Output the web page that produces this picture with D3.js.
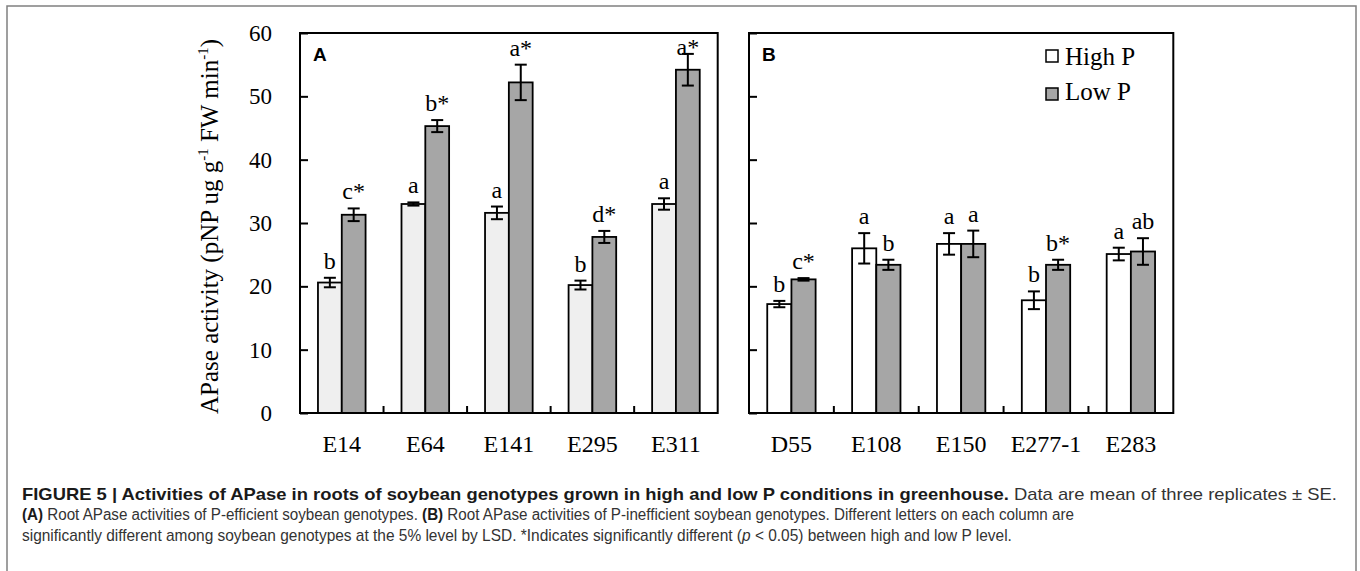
<!DOCTYPE html>
<html>
<head>
<meta charset="utf-8">
<script src="https://d3js.org/d3.v7.min.js"></script>
<style>
  body { margin: 0; background: #fff; }
  svg { display: block; }
</style>
</head>
<body>
<svg width="1360" height="571"></svg>
<script>
var seriesNames = ["High P", "Low P"]
var yTicks = [0, 10, 20, 30, 40, 50, 60]

var genotypesA = ["E14", "E64", "E141", "E295", "E311"]
var highA = [20.6, 33.0, 31.6, 20.2, 33.0]
var highErrA = [0.75, 0.25, 1.0, 0.7, 0.9]
var lowA = [31.3, 45.3, 52.2, 27.8, 54.2]
var lowErrA = [1.0, 0.95, 2.8, 0.95, 2.5]
var highLetA = ["b", "a", "a", "b", "a"]
var lowLetA = ["c*", "b*", "a*", "d*", "a*"]

var genotypesB = ["D55", "E108", "E150", "E277-1", "E283"]
var highB = [17.2, 26.0, 26.7, 17.8, 25.1]
var highErrB = [0.5, 2.4, 1.7, 1.4, 1.0]
var lowB = [21.1, 23.4, 26.7, 23.4, 25.5]
var lowErrB = [0.2, 0.8, 2.1, 0.8, 2.1]
var highLetB = ["b", "a", "a", "b", "a"]
var lowLetB = ["c*", "b", "a", "b*", "ab"]

var svg = d3.select("svg")
var serif = "'Liberation Serif', 'Times New Roman', serif"
var plotTop = 33, plotBottom = 413

var y = d3.scaleLinear().domain([0, 60]).range([plotBottom, plotTop])

// outer grey frame
svg.append("path")
	.attr("d", "M7,571 V6 H1356 V571")
	.attr("fill", "none")
	.attr("stroke", "#808080")
	.attr("stroke-width", 1.5)

function drawPanel(opts) {
	var x0 = d3.scaleBand().domain(opts.cats).range([opts.left, opts.right])
	var barW = x0.bandwidth() * 0.285
	var x1 = d3.scaleBand().domain(seriesNames).range([0, barW * 2])
	var off = (x0.bandwidth() - barW * 2) / 2
	var g = svg.append("g")

	var rows = []
	opts.cats.forEach(function(c, i) {
		rows.push({ cat: c, s: "High P", v: opts.high[i], e: opts.highErr[i], lab: opts.highLet[i] })
		rows.push({ cat: c, s: "Low P", v: opts.low[i], e: opts.lowErr[i], lab: opts.lowLet[i] })
	})

	g.selectAll("rect.bar").data(rows).enter().append("rect")
		.attr("class", "bar")
		.attr("x", d => x0(d.cat) + off + x1(d.s))
		.attr("width", x1.bandwidth())
		.attr("y", d => y(d.v))
		.attr("height", d => y(0) - y(d.v))
		.attr("fill", d => d.s == "High P" ? opts.highFill : "#a6a6a6")
		.attr("stroke", "#000")
		.attr("stroke-width", 1.8)

	var cx = d => x0(d.cat) + off + x1(d.s) + x1.bandwidth() / 2
	var err = g.selectAll("g.err").data(rows).enter().append("g")
		.attr("stroke", "#000").attr("stroke-width", 2)
	err.append("line")
		.attr("x1", cx).attr("x2", cx)
		.attr("y1", d => y(d.v + d.e)).attr("y2", d => y(d.v - d.e))
	err.append("line")
		.attr("x1", d => cx(d) - 6).attr("x2", d => cx(d) + 6)
		.attr("y1", d => y(d.v + d.e)).attr("y2", d => y(d.v + d.e))
	err.append("line")
		.attr("x1", d => cx(d) - 6).attr("x2", d => cx(d) + 6)
		.attr("y1", d => y(d.v - d.e)).attr("y2", d => y(d.v - d.e))

	g.selectAll("text.lab").data(rows).enter().append("text")
		.attr("class", "lab")
		.attr("x", cx)
		.attr("y", d => Math.max(y(d.v + d.e) - 9, plotTop + 22))
		.attr("text-anchor", "middle")
		.attr("font-family", serif)
		.attr("font-size", 24)
		.text(d => d.lab)

	// y axis with inward ticks
	var yAxis = d3.axisLeft(y).tickValues(yTicks).tickSizeInner(-8).tickSizeOuter(0).tickPadding(28)
	if (!opts.yLabels) yAxis.tickFormat("")
	var ya = g.append("g").attr("transform", "translate(" + opts.left + ",0)").call(yAxis)
	ya.select(".domain").remove()
	ya.selectAll(".tick line").attr("stroke", "#000").attr("stroke-width", 2)
	ya.selectAll(".tick text").attr("font-family", serif).attr("font-size", 23).attr("fill", "#000")

	// x axis labels
	var xAxis = d3.axisBottom(x0).tickSize(0).tickPadding(22)
	var xa = g.append("g").attr("transform", "translate(0," + plotBottom + ")").call(xAxis)
	xa.select(".domain").remove()
	xa.selectAll(".tick text").attr("font-family", serif).attr("font-size", 24).attr("fill", "#000")

	// small ticks between groups
	g.selectAll("line.sep").data(opts.cats.slice(1)).enter().append("line")
		.attr("x1", d => x0(d)).attr("x2", d => x0(d))
		.attr("y1", plotBottom).attr("y2", plotBottom - 7)
		.attr("stroke", "#000").attr("stroke-width", 2)

	g.append("rect")
		.attr("x", opts.left).attr("y", plotTop)
		.attr("width", opts.right - opts.left).attr("height", plotBottom - plotTop)
		.attr("fill", "none").attr("stroke", "#000").attr("stroke-width", 2)

	g.append("text")
		.attr("x", opts.left + 13).attr("y", 61)
		.attr("font-family", "'Liberation Sans', Arial, sans-serif")
		.attr("font-weight", "bold").attr("font-size", 19)
		.text(opts.name)
}

drawPanel({ name: "A", cats: genotypesA, left: 300, right: 717.7, high: highA, highErr: highErrA,
	low: lowA, lowErr: lowErrA, highLet: highLetA, lowLet: lowLetA, highFill: "#efefef", yLabels: true })
drawPanel({ name: "B", cats: genotypesB, left: 749, right: 1173.3, high: highB, highErr: highErrB,
	low: lowB, lowErr: lowErrB, highLet: highLetB, lowLet: lowLetB, highFill: "#ffffff", yLabels: false })

// legend
var legend = svg.append("g")
seriesNames.forEach(function(s, i) {
	legend.append("rect")
		.attr("x", 1046).attr("y", 50 + i * 38).attr("width", 12).attr("height", 12)
		.attr("fill", i == 0 ? "#fff" : "#a6a6a6").attr("stroke", "#000").attr("stroke-width", 1.5)
	legend.append("text")
		.attr("x", 1065).attr("y", 65 + i * 35)
		.attr("font-family", serif).attr("font-size", 25)
		.text(s)
})

// y axis title
var yt = svg.append("text")
	.attr("transform", "translate(218,226.5) rotate(-90)")
	.attr("text-anchor", "middle")
	.attr("font-family", serif).attr("font-size", 25)
yt.append("tspan").text("APase activity (pNP ug g")
yt.append("tspan").attr("font-size", 15).attr("dy", -10).text("-1")
yt.append("tspan").attr("dy", 10).text(" FW min")
yt.append("tspan").attr("font-size", 15).attr("dy", -10).text("-1")
yt.append("tspan").attr("dy", 10).text(")")

// caption, squeezed horizontally to the width of the condensed original
var capFont = "'Liberation Sans Narrow', 'Arial Narrow', 'Liberation Sans', Arial, sans-serif"
var capLines = [
	{ y: 500, w: 1316, parts: [
		{ t: "FIGURE 5 | Activities of APase in roots of soybean genotypes grown in high and low P conditions in greenhouse.", b: true },
		{ t: " Data are mean of three replicates \u00b1 SE." }] },
	{ y: 520, w: 1053, parts: [
		{ t: "(A)", b: true }, { t: " Root APase activities of P-efficient soybean genotypes. " },
		{ t: "(B)", b: true }, { t: " Root APase activities of P-inefficient soybean genotypes. Different letters on each column are" }] },
	{ y: 541, w: 991, parts: [
		{ t: "significantly different among soybean genotypes at the 5% level by LSD. *Indicates significantly different (" },
		{ t: "p", i: true }, { t: " < 0.05) between high and low P level." }] }
]
capLines.forEach(function(l) {
	var t = svg.append("text")
		.attr("x", 0).attr("y", 0)
		.attr("font-family", capFont).attr("font-size", 16)
	l.parts.forEach(function(p) {
		t.append("tspan")
			.attr("font-weight", p.b ? "bold" : "normal")
			.attr("font-style", p.i ? "italic" : "normal")
			.attr("fill", p.b ? "#1a1a1a" : "#333")
			.text(p.t)
	})
	var len = t.node().getComputedTextLength()
	t.attr("transform", "translate(22," + l.y + ") scale(" + (l.w / len) + ",1)")
})
</script>
</body>
</html>
